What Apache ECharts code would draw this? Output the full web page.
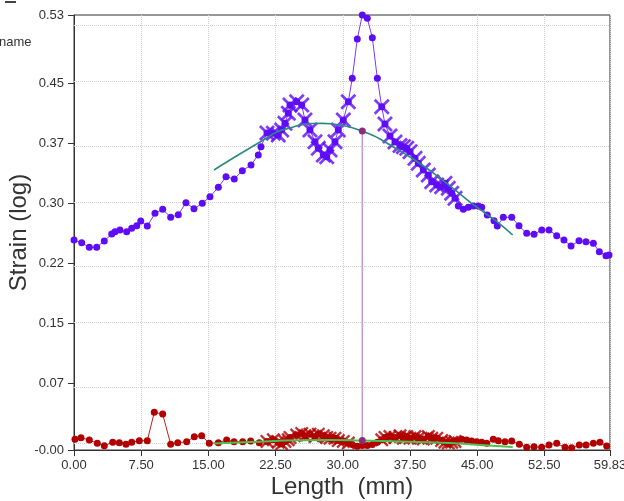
<!DOCTYPE html>
<html>
<head>
<meta charset="utf-8">
<script src="https://cdn.jsdelivr.net/npm/echarts@6/dist/echarts.min.js"></script>
<style>
html,body{margin:0;padding:0;background:#fff;}
#chart{width:624px;height:501px;}
</style>
</head>
<body>
<div id="chart"></div>
<script>
// ---- axis ticks ----
const xTickValues = [0, 7.5, 15, 22.5, 30, 37.5, 45, 52.5, 59.83];
const yMin = -0.0087, yMax = 0.533;
const yTickValues = [-0.0087, 0.0747, 0.1494, 0.2241, 0.2988, 0.3735, 0.4482, 0.533];
const yTickLabels = ['-0.00', '0.07', '0.15', '0.22', '0.30', '0.37', '0.45', '0.53'];
const yGridValues = [0, 0.0747, 0.1494, 0.2241, 0.2988, 0.3735, 0.4482, 0.5229];

// ---- major strain (purple) ----
const majorX = [0.00,0.86,1.71,2.53,3.38,4.21,4.58,5.13,5.88,6.44,7.00,7.45,8.18,9.04,9.90,10.79,11.64,12.50,13.39,14.32,
  15.18,16.11,16.97,17.89,18.79,19.76,20.57,20.87,
  21.54,22.25,22.80,23.18,23.55,23.92,24.11,24.86,25.42,25.78,26.34,26.90,27.27,27.83,28.21,28.58,29.13,29.50,30.06,30.62,
  31.06,31.62,32.18,32.74,33.30,33.86,
  34.35,34.71,35.27,35.83,36.39,36.76,37.14,37.51,38.06,38.43,38.99,39.55,39.93,40.49,41.04,41.41,41.78,42.16,42.53,
  42.90,43.46,44.01,44.57,45.13,45.51,46.13,46.88,47.25,47.92,48.86,49.67,50.53,51.35,52.21,53.02,53.88,54.69,55.48,
  56.37,57.15,57.97,58.64,59.38,59.72];
const majorY = [0.2528,0.2494,0.2437,0.2437,0.2516,0.2603,0.2631,0.2653,0.2631,0.2674,0.2706,0.2765,0.2702,0.2861,0.2910,0.2811,0.2843,0.2993,0.2918,0.2985,
  0.3067,0.3184,0.3316,0.3288,0.3391,0.3462,0.3587,0.3690,
  0.3861,0.3857,0.3836,0.3898,0.3981,0.4106,0.4209,0.4250,0.4209,0.4022,0.3898,0.3752,0.3670,0.3587,0.3565,0.3649,0.3752,0.3898,0.4022,0.4250,
  0.4542,0.5031,0.5330,0.5289,0.5047,0.4542,
  0.4188,0.3973,0.3823,0.3748,0.3705,0.3690,0.3670,0.3628,0.3545,0.3483,0.3400,0.3338,0.3254,0.3213,0.3192,0.3234,0.3172,0.3110,0.3047,
  0.2951,0.2910,0.2935,0.2951,0.2951,0.2935,0.2839,0.2768,0.2702,0.2811,0.2811,0.2706,0.2611,0.2599,0.2653,0.2653,0.2582,0.2528,0.2453,
  0.2519,0.2507,0.2487,0.2382,0.2333,0.2341];
// 1 = point used in the fit (cross marker)
const majorUsed = [0,0,0,0,0,0,0,0,0,0,0,0,0,0,0,0,0,0,0,0,
  0,0,0,0,0,0,0,0,
  1,1,1,1,1,1,1,1,1,1,1,1,1,1,1,1,1,1,1,1,
  0,0,0,0,0,0,
  1,1,1,1,1,1,1,1,1,1,1,1,1,1,1,1,1,1,1,
  0,0,0,0,0,0,0,0,0,0,0,0,0,0,0,0,0,0,0,
  0,0,0,0,0,0];

// ---- minor strain (red) ----
const minorX = [0.11,0.78,1.71,2.60,3.38,4.32,5.06,5.80,6.44,7.29,8.18,8.96,9.90,10.79,11.58,12.58,13.43,14.25,15.10,16.11,17.04,17.86,18.83,19.72,20.68,
  21.54,22.25,22.80,23.18,23.55,23.92,24.11,24.86,25.42,25.78,26.34,26.90,27.27,27.83,28.21,28.58,29.13,29.50,30.06,30.62,
  31.06,31.62,32.18,32.74,33.30,33.86,
  34.35,34.71,35.27,35.83,36.39,36.76,37.14,37.51,38.06,38.43,38.99,39.55,39.93,40.49,41.04,41.41,41.78,42.16,42.53,
  42.72,43.28,43.83,44.39,44.95,45.51,46.07,46.80,47.36,48.11,48.86,49.71,50.53,51.35,52.21,53.02,53.88,54.81,55.55,56.40,57.15,57.97,58.71,59.46];
const minorY = [0.0046,0.0066,0.0037,-0.0004,-0.0033,0.0009,0.0004,-0.0016,0.0009,0.0029,0.0029,0.0382,0.0361,-0.0016,0.0004,0.0016,0.0079,0.0091,-0.0004,0.0004,0.0037,0.0016,0.0016,0.0025,0.0004,
  0.0020,0.0040,0.0010,-0.0010,0.0020,0.0040,0.0070,0.0100,0.0120,0.0090,0.0110,0.0080,0.0110,0.0090,0.0070,0.0060,0.0060,0.0030,0.0020,0.0000,
  -0.0020,-0.0040,-0.0030,-0.0030,-0.0020,0.0010,
  0.0040,0.0070,0.0080,0.0070,0.0090,0.0060,0.0080,0.0060,0.0080,0.0060,0.0050,0.0080,0.0060,0.0060,0.0030,0.0010,0.0000,0.0010,0.0020,
  0.0029,0.0046,0.0037,0.0025,0.0016,0.0009,-0.0004,0.0046,0.0029,0.0016,0.0025,-0.0016,-0.0054,-0.0046,-0.0054,-0.0025,-0.0004,-0.0054,-0.0059,-0.0025,-0.0025,-0.0004,0.0009,-0.0037];
const minorUsed = [0,0,0,0,0,0,0,0,0,0,0,0,0,0,0,0,0,0,0,0,0,0,0,0,0,
  1,1,1,1,1,1,1,1,1,1,1,1,1,1,1,1,1,1,1,1,
  0,0,0,0,0,0,
  1,1,1,1,1,1,1,1,1,1,1,1,1,1,1,1,1,1,1,
  0,0,0,0,0,0,0,0,0,0,0,0,0,0,0,0,0,0,0,0,0,0,0,0];

// ---- fitted curves ----
const majorFitX = [15.63,17.41,19.64,21.32,22.66,24.11,25.23,26.57,27.68,28.91,30.03,31.14,32.18,33.26,34.16,35.83,37.50,39.18,40.85,42.53,44.20,45.88,47.55,48.97];
const majorFitY = [0.3400,0.3524,0.3674,0.3786,0.3873,0.3923,0.3960,0.3979,0.3981,0.3973,0.3954,0.3923,0.3885,0.3836,0.3786,0.3674,0.3562,0.3437,0.3300,0.3151,0.3001,0.2864,0.2727,0.2590];
const minorFitX = [15.63,19.64,25.23,28.60,32.18,36.39,41.97,45.32,48.97];
const minorFitY = [-0.0006,0.0012,0.0034,0.0037,0.0030,0.0019,0.0000,-0.0025,-0.0050];

// ---- limit position marker ----
const limitX = 32.18;
const limitMajor = 0.3885;
const limitMinor = 0.0030;

const zip = (xs, ys) => xs.map((x, i) => [x, ys[i]]);
const pick = (xs, ys, flags) => xs.map((x, i) => [x, ys[i], flags[i]]).filter(p => p[2] === 1).map(p => [p[0], p[1]]);

const crossPath = 'path://M0,1.2 L1.2,0 L5,3.8 L8.8,0 L10,1.2 L6.2,5 L10,8.8 L8.8,10 L5,6.2 L1.2,10 L0,8.8 L3.8,5 Z';

const PURPLE = '#5f0cf6';
const RED = '#b20000';
const FONT = 'Liberation Sans, Arial, sans-serif';

const chart = echarts.init(document.getElementById('chart'), null, {renderer: 'canvas'});
chart.setOption({
  animation: false,
  backgroundColor: '#fff',
  textStyle: {fontFamily: FONT},
  grid: {left: 74, right: 14, top: 15, bottom: 51, outerBoundsMode: 'none', containLabel: false,
    show: true, borderColor: '#333', borderWidth: 1, backgroundColor: 'transparent'},
  graphic: [
    {type: 'line', shape: {x1: 5, y1: 2, x2: 16, y2: 2}, style: {stroke: '#444', lineWidth: 2}},
    {type: 'text', left: -1, top: 36, style: {text: 'name', font: '13px ' + FONT, fill: '#333'}}
  ],
  xAxis: {
    type: 'value', min: 0, max: 59.83, interval: 7.5,
    name: 'Length  (mm)', nameLocation: 'middle', nameGap: 25, nameMoveOverlap: false,
    nameTextStyle: {fontSize: 24, color: '#333'},
    axisLine: {show: true, onZero: false, lineStyle: {color: '#333', width: 1}},
    axisTick: {show: true, length: 6, lineStyle: {color: '#333'}, customValues: xTickValues},
    axisLabel: {fontSize: 13, color: '#333', margin: 9, customValues: xTickValues,
      formatter: v => Number(v).toFixed(2)},
    splitLine: {show: true, lineStyle: {type: 'dotted', color: '#cfcfcf', width: 1}}
  },
  yAxis: {
    type: 'value', min: yMin, max: yMax,
    name: 'Strain (log)', nameLocation: 'middle', nameGap: 43, nameMoveOverlap: false,
    nameTextStyle: {fontSize: 24, color: '#333'},
    axisLine: {show: true, onZero: false, lineStyle: {color: '#333', width: 1}},
    axisTick: {show: true, length: 6, lineStyle: {color: '#333'}, customValues: yTickValues},
    axisLabel: {fontSize: 13, color: '#333', margin: 10, customValues: yTickValues,
      formatter: v => { const i = yTickValues.findIndex(t => Math.abs(t - v) < 1e-6); return i >= 0 ? yTickLabels[i] : ''; }},
    splitLine: {show: false}
  },
  series: [
    {
      type: 'line', data: [], z: 1, silent: true,
      markLine: {silent: true, z: 1, symbol: ['none', 'none'], label: {show: false},
        lineStyle: {type: 'dotted', color: '#cfcfcf', width: 1},
        emphasis: {disabled: true},
        data: yGridValues.map(v => ({yAxis: v}))}
    },
    {
      name: 'minor', type: 'line', data: zip(minorX, minorY), z: 3,
      symbol: 'circle', symbolSize: 7, showAllSymbol: true,
      itemStyle: {color: RED}, lineStyle: {color: '#c02020', width: 1}
    },
    {
      name: 'minorFitPts', type: 'scatter', data: pick(minorX, minorY, minorUsed), z: 4,
      symbol: crossPath, symbolSize: 14, itemStyle: {color: RED}
    },
    {
      name: 'major', type: 'line', data: zip(majorX, majorY), z: 3,
      symbol: 'circle', symbolSize: 7, showAllSymbol: true,
      itemStyle: {color: PURPLE}, lineStyle: {color: '#7a3cf6', width: 1}
    },
    {
      name: 'majorFitPts', type: 'scatter', data: pick(majorX, majorY, majorUsed), z: 4,
      symbol: crossPath, symbolSize: 16, itemStyle: {color: PURPLE}
    },
    {
      name: 'majorFit', type: 'line', data: zip(majorFitX, majorFitY), z: 5, smooth: true,
      symbol: 'none', lineStyle: {color: '#2a8a80', width: 1.6}
    },
    {
      name: 'minorFit', type: 'line', data: zip(minorFitX, minorFitY), z: 5, smooth: true,
      symbol: 'none', lineStyle: {color: '#4cbf4c', width: 2}
    },
    {
      name: 'limit', type: 'line', data: [[limitX, limitMinor], [limitX, limitMajor]], z: 6,
      symbol: 'circle', symbolSize: 7, showAllSymbol: true,
      itemStyle: {color: '#8e2c7c'}, lineStyle: {color: '#cc99cc', width: 1.5}
    }
  ]
});
</script>
</body>
</html>
